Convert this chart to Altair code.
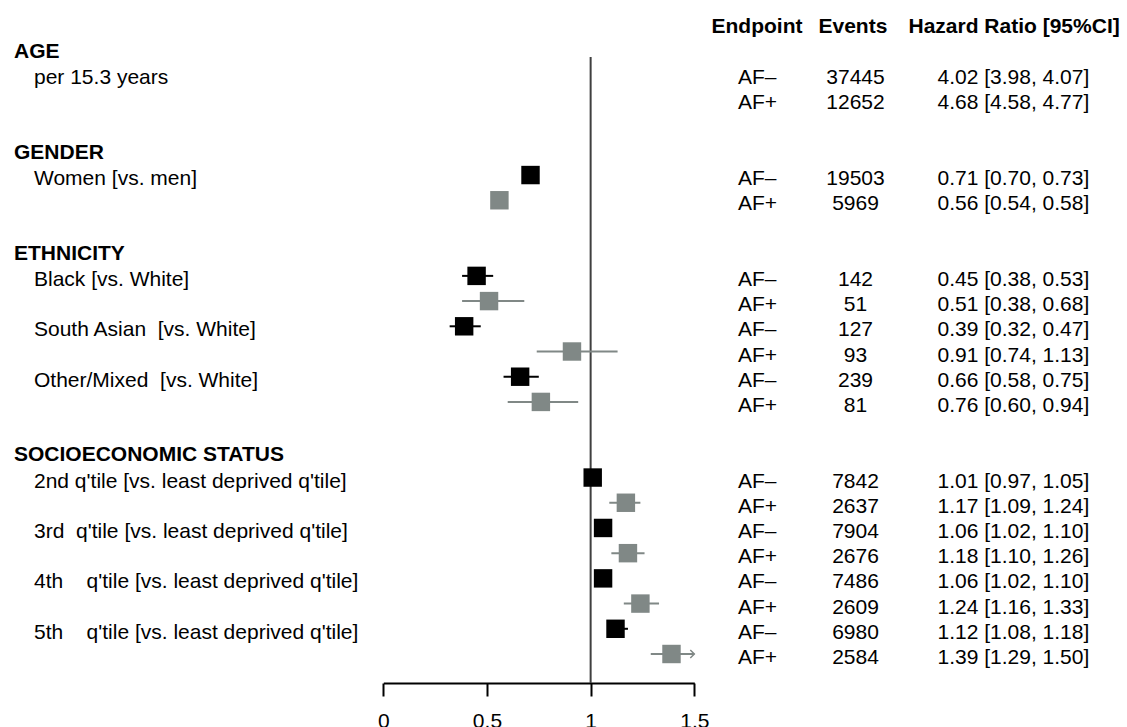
import altair as alt
import pandas as pd

# ---- data ----
group_headers = ["AGE", "GENDER", "ETHNICITY", "SOCIOECONOMIC STATUS"]
group_rows = [0, 4, 8, 16]

sub_labels = [
    "per 15.3 years",
    "\u00a0Women [vs. men]",
    "Black [vs. White]",
    "South Asian\u00a0 [vs. White]",
    "Other/Mixed\u00a0 [vs. White]",
    "2nd q'tile [vs. least deprived q'tile]",
    "3rd\u00a0 q'tile [vs. least deprived q'tile]",
    "4th\u00a0\u00a0\u00a0 q'tile [vs. least deprived q'tile]",
    "5th\u00a0\u00a0\u00a0 q'tile [vs. least deprived q'tile]",
]
sub_rows = [1, 5, 9, 11, 13, 17, 19, 21, 23]

est_rows = [1, 2, 5, 6, 9, 10, 11, 12, 13, 14, 17, 18, 19, 20, 21, 22, 23, 24]
endpoint = ["AF\u2013", "AF+"] * 9
events = [37445, 12652, 19503, 5969, 142, 51, 127, 93, 239, 81,
          7842, 2637, 7904, 2676, 7486, 2609, 6980, 2584]
hr = [4.02, 4.68, 0.71, 0.56, 0.45, 0.51, 0.39, 0.91, 0.66, 0.76,
      1.01, 1.17, 1.06, 1.18, 1.06, 1.24, 1.12, 1.39]
lo = [3.98, 4.58, 0.70, 0.54, 0.38, 0.38, 0.32, 0.74, 0.58, 0.60,
      0.97, 1.09, 1.02, 1.10, 1.02, 1.16, 1.08, 1.29]
hi = [4.07, 4.77, 0.73, 0.58, 0.53, 0.68, 0.47, 1.13, 0.75, 0.94,
      1.05, 1.24, 1.10, 1.26, 1.10, 1.33, 1.18, 1.50]

x_ticks = [0, 0.5, 1, 1.5]
x_min, x_max = 0, 1.5
ref_value = 1

# ---- tables ----
est = pd.DataFrame({
    "row": est_rows, "endpoint": endpoint, "events": events,
    "hr": hr, "lo": lo, "hi": hi,
})
est["hr_text"] = [f"{a:.2f} [{b:.2f}, {c:.2f}]" for a, b, c in zip(hr, lo, hi)]
groups = pd.DataFrame({"row": group_rows, "label": group_headers})
subs = pd.DataFrame({"row": sub_rows, "label": sub_labels})

FONT = "Liberation Sans"
FS = 21
BLACK = "#000000"
GRAY = "#808886"

yscale = alt.Scale(domain=[-1, 24], range=[23.8, 654])
xscale = alt.Scale(domain=[x_min, x_max], range=[383.3, 694.3])
ycol = alt.Y("row:Q", scale=yscale, axis=None)
color = alt.Color("endpoint:N", scale=alt.Scale(domain=["AF\u2013", "AF+"], range=[BLACK, GRAY]), legend=None)

xaxis = alt.Axis(
    values=x_ticks, format="~g", title="", grid=False,
    domainColor=BLACK, domainWidth=2, tickColor=BLACK, tickWidth=2, tickSize=13,
    labelFont=FONT, labelFontSize=FS, labelColor=BLACK, labelPadding=14,
    labelFlush=False, labelOverlap=False)

base = alt.Chart(est)

ref = alt.Chart(pd.DataFrame({"v": [ref_value]})).mark_rule(color="#404040", strokeWidth=2).encode(
    x=alt.X("v:Q", scale=xscale, axis=xaxis),
    y=alt.value(57), y2=alt.value(683),
)

ci = base.transform_filter(alt.datum.hr <= x_max).transform_calculate(
    lo_c=f"max(datum.lo, {x_min})", hi_c=f"min(datum.hi, {x_max})"
).mark_rule(strokeWidth=2).encode(
    x=alt.X("lo_c:Q", scale=xscale, axis=xaxis),
    x2="hi_c:Q",
    y=ycol,
    color=color,
)

boxes = base.transform_filter(alt.datum.hr <= x_max).mark_point(
    shape="square", filled=True, size=340, opacity=1, strokeWidth=0
).encode(
    x=alt.X("hr:Q", scale=xscale, axis=xaxis),
    y=ycol,
    color=color,
)

arrows = base.transform_filter((alt.datum.hi >= x_max) & (alt.datum.lo < x_max)).transform_calculate(
    hi_c=f"min(datum.hi, {x_max})"
).mark_point(
    shape="M-1,-1L0,0L-1,1", filled=False, size=64, strokeWidth=1.5, opacity=1
).encode(
    x=alt.X("hi_c:Q", scale=xscale, axis=xaxis),
    y=ycol,
    color=color,
)

def txt(data, field, xpix, align="left", bold=False, dy=4):
    return alt.Chart(data).mark_text(
        align=align, baseline="middle", font=FONT, fontSize=FS,
        fontWeight="bold" if bold else "normal", color=BLACK, dy=dy
    ).encode(x=alt.value(xpix), y=ycol, text=field)

group_text = txt(groups, "label:N", 14, bold=True, dy=3)
sub_text = txt(subs, "label:N", 34)
end_text = txt(est, "endpoint:N", 738)
ev_text = txt(est, "events:N", 855.5, align="center")
hr_text = txt(est, "hr_text:N", 937.5)

hdr_df = pd.DataFrame({"row": [-1]})
def hdr(label, xpix):
    return alt.Chart(hdr_df).mark_text(
        align="left", baseline="middle", font=FONT, fontSize=FS,
        fontWeight="bold", color=BLACK, dy=3, text=label
    ).encode(x=alt.value(xpix), y=ycol)

headers = hdr("Endpoint", 711.5) + hdr("Events", 818.5) + hdr("Hazard Ratio [95%CI]", 908.5)

chart = alt.layer(
    ref, ci, boxes, arrows, group_text, sub_text, end_text, ev_text, hr_text, headers
).properties(
    width=1127, height=683,
    padding={"left": 0, "top": 0, "right": 0, "bottom": 44},
    autosize="none",
).configure_view(stroke="transparent")

chart.save("out.html", embed_options={"renderer": "svg", "actions": False})
